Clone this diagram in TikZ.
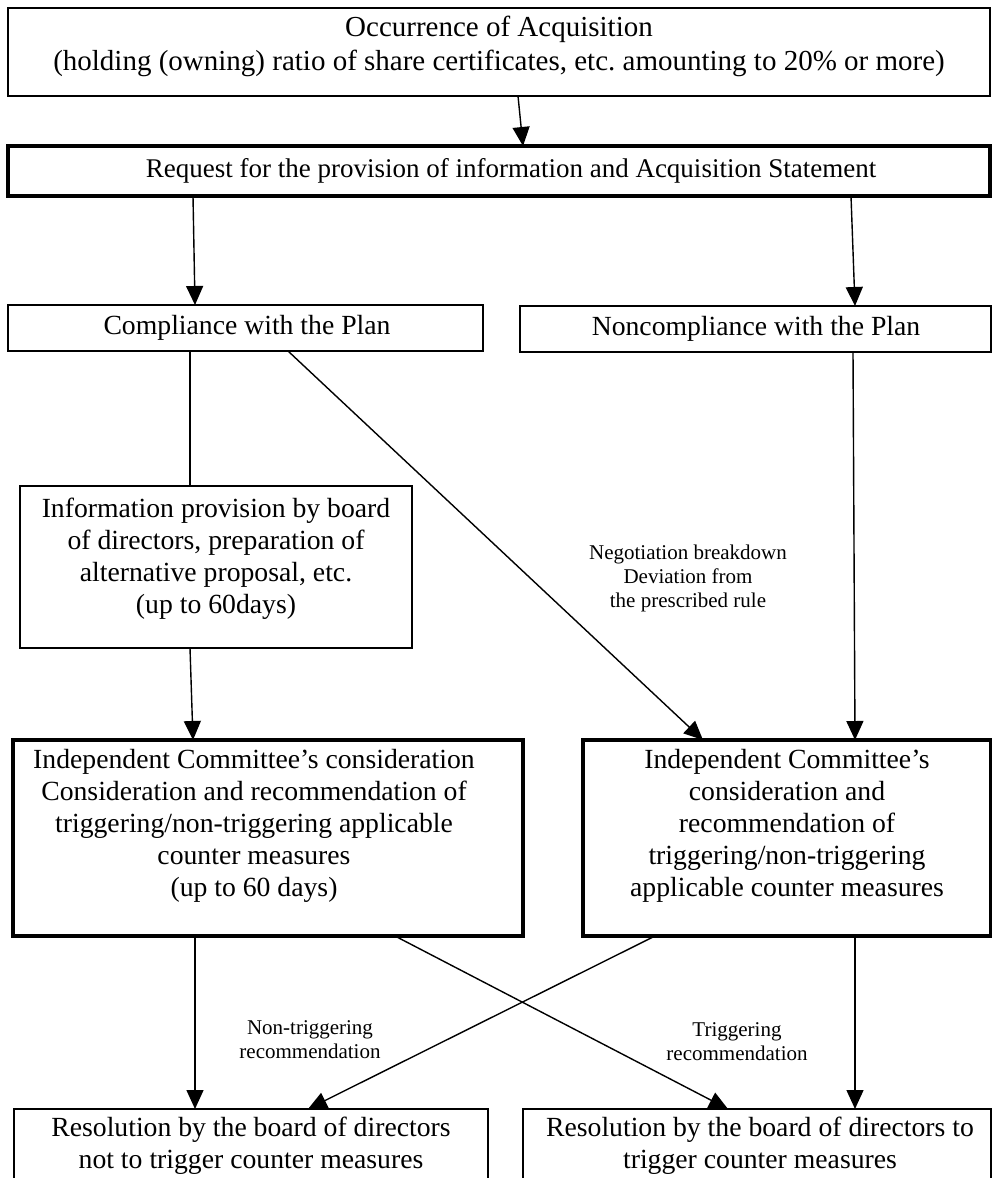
\documentclass[tikz,border=0pt]{standalone}
\usepackage{fontspec}
\setmainfont{Liberation Serif}
\usetikzlibrary{arrows.meta,fit,calc}
\begin{document}
\begin{tikzpicture}[x=1pt,y=-1pt,
  thinbox/.style={draw, line width=1.6pt, inner sep=0pt, outer sep=0pt},
  thickbox/.style={draw, line width=4pt, inner sep=0pt, outer sep=0pt},
  txt/.style={align=center, inner sep=0pt, font=\fontsize{27.7}{32}\selectfont},
  lbl/.style={align=center, inner sep=0pt, font=\fontsize{21}{24}\selectfont},
  arr/.style={line width=1.4pt, -{Triangle[length=19pt,width=17pt]}},
  ln/.style={line width=1.4pt}]
\useasboundingbox (0,0) rectangle (992,1178);
\clip (0,0) rectangle (992,1178);
\fill[white] (0,0) rectangle (992,1178);

% boxes
\node[thinbox, fit={(8,8) (990,96)}] (top) {};
\node[thickbox, fit={(8,146) (990,196)}] (req) {};
\node[thinbox, fit={(8,305) (483,351)}] (comp) {};
\node[thinbox, fit={(520,306) (991,352)}] (noncomp) {};
\node[thinbox, fit={(20,486) (412,648)}] (info) {};
\node[thickbox, fit={(13,740) (523,936)}] (icl) {};
\node[thickbox, fit={(583,740) (991,936)}] (icr) {};
\node[thinbox, fit={(14,1109) (488,1200)}] (resl) {};
\node[thinbox, fit={(523,1109) (991,1200)}] (resr) {};

% texts
\node[txt, font=\fontsize{29}{34}\selectfont] (ttop) at (499,46) {Occurrence of Acquisition\\(holding (owning) ratio of share certificates, etc.\ amounting to 20\% or more)};
\node[txt, font=\fontsize{27}{32}\selectfont] (treq) at (511,171) {Request for the provision of information and Acquisition Statement};
\node[txt] (tcomp) at (247,328) {Compliance with the Plan};
\node[txt] (tnon) at (756,329) {Noncompliance with the Plan};
\node[txt] (tinfo) at (216,559) {Information provision by board\\of directors, preparation of\\alternative proposal, etc.\\(up to 60days)};
\node[txt] (ticl) at (254,826) {Independent Committee’s consideration\\Consideration and recommendation of\\triggering/non-triggering applicable\\counter measures\\(up to 60 days)};
\node[txt] (ticr) at (787,826) {Independent Committee’s\\consideration and\\recommendation of\\triggering/non-triggering\\applicable counter measures};
\node[txt] (tresl) at (251,1146) {Resolution by the board of directors\\not to trigger counter measures};
\node[txt] (tresr) at (760,1146) {Resolution by the board of directors to\\trigger counter measures};

% labels
\node[lbl] (lneg) at (688,578) {Negotiation breakdown\\Deviation from\\the prescribed rule};
\node[lbl] (lnon) at (310,1040) {Non-triggering\\recommendation};
\node[lbl] (ltrig) at (737,1042) {Triggering\\recommendation};

% connectors
\draw[arr] ([xshift=19pt]top.south) -- ([xshift=24pt]req.north);
\draw[arr] ([xshift=-306pt]req.south) -- ([xshift=-50.5pt]comp.north);
\draw[arr] ([xshift=352pt]req.south) -- ([xshift=99.5pt]noncomp.north);
\draw[ln] ([xshift=-55.5pt]comp.south) -- ([xshift=-26pt]info.north);
\draw[arr] ([xshift=-26pt]info.south) -- ([xshift=-75pt]icl.north);
\draw[arr] ([xshift=42.5pt]comp.south) -- ([xshift=-84pt]icr.north);
\draw[arr] ([xshift=97.5pt]noncomp.south) -- ([xshift=68pt]icr.north);
\draw[arr] ([xshift=-73pt]icl.south) -- ([xshift=-56pt]resl.north);
\draw[arr] ([xshift=127pt]icl.south) -- ([xshift=-29pt]resr.north);
\draw[arr] ([xshift=-132pt]icr.south) -- ([xshift=57pt]resl.north);
\draw[arr] ([xshift=68pt]icr.south) -- ([xshift=98pt]resr.north);
\end{tikzpicture}
\end{document}
